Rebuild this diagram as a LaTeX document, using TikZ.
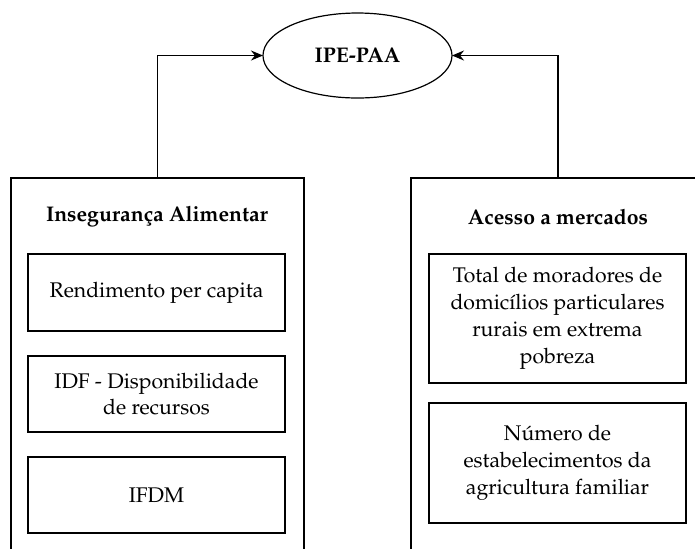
\documentclass[tikz,border=0pt]{standalone}
\usepackage[T1]{fontenc}
\usepackage{mathpazo}
\usetikzlibrary{shapes.geometric,arrows.meta}
\begin{document}
\begin{tikzpicture}[x=0.5pt,y=-0.5pt,
  line width=0.6pt,
  every node/.style={inner sep=0pt,outer sep=0pt},
  outerbox/.style={draw,rectangle,minimum width=146.5pt,minimum height=191pt},
  innerbox/.style={draw,rectangle,minimum width=128.5pt,align=center,font=\fontsize{10.6}{13.4}\selectfont},
  title/.style={font=\fontsize{10.6}{13.4}\selectfont\bfseries},
  arr/.style={-{Stealth[length=6pt,width=5pt]}}
]
\useasboundingbox (0,0) rectangle (695,548);
\clip (0,0) rectangle (695,548);
\node[draw,ellipse,minimum width=94.5pt,minimum height=42.5pt,font=\fontsize{10.6}{13.4}\selectfont\bfseries] (ipe) at (357.5,55.5) {IPE-PAA};
\node[outerbox] (L) at (157.5,369) {};
\node[outerbox,minimum width=147pt] (R) at (558,369) {};
\draw[arr] (L.north) |- (ipe.west);
\draw[arr] (R.north) |- (ipe.east);
\node[title] (tl) at (157,217) {Insegurança Alimentar};
\node[title] (tr) at (558,217) {Acesso a mercados};
\node[innerbox,minimum height=38.5pt] (l1) at (156.5,292.5) {Rendimento per capita};
\node[innerbox,minimum height=38pt] (l2) at (156.5,394) {IDF - Disponibilidade\\de recursos};
\node[innerbox,minimum height=38pt] (l3) at (156.5,495) {IFDM};
\node[innerbox,minimum height=64.5pt] (r1) at (557.5,318.5) {Total de moradores de\\domicílios particulares\\rurais em extrema\\pobreza};
\node[innerbox,minimum height=60pt] (r2) at (557.5,463) {Número de\\estabelecimentos da\\agricultura familiar};
\end{tikzpicture}
\end{document}
